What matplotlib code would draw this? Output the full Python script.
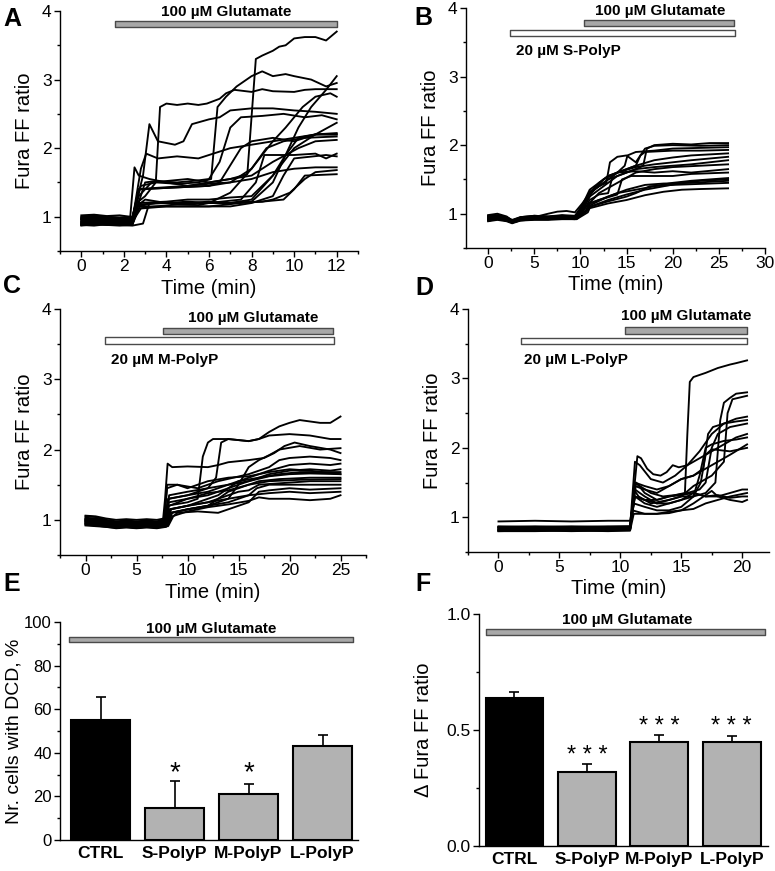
import matplotlib
matplotlib.use("Agg")
import matplotlib.pyplot as plt
from matplotlib.ticker import MultipleLocator

plt.rcParams['font.family'] = ['Liberation Sans', 'DejaVu Sans']
plt.rcParams['axes.linewidth'] = 1.0

# ---------------- data ----------------
# Panel A: control, glutamate only (time in min, Fura FF ratio)
traces_a = [
    [(0,0.96),(0.6,0.98),(1.2,0.97),(1.8,0.95),(2.4,0.96),(2.7,1.3),(3.3,1.5),(4,1.52),(5,1.55),(6,1.5),(7,1.55),(7.8,1.62),(8.2,3.3),(8.5,3.35),(9,3.42),(9.3,3.48),(9.6,3.5),(10,3.6),(10.5,3.62),(11,3.62),(11.5,3.57),(12,3.7)],
    [(0,0.9),(0.6,0.92),(1.2,0.9),(1.8,0.91),(2.4,0.9),(2.6,1.15),(3,1.25),(4,1.2),(5,1.22),(6,1.2),(7,1.2),(8,1.22),(9,1.5),(9.6,1.9),(10.2,2.3),(10.8,2.6),(11.5,2.85),(12,3.05)],
    [(0,1.0),(0.6,1.02),(1.2,1.0),(1.8,0.99),(2.4,1.0),(2.8,1.45),(3.5,1.5),(4.5,1.48),(5.5,1.5),(6.1,1.55),(6.4,2.6),(6.8,2.75),(7.3,2.9),(8,3.05),(8.5,3.12),(9,3.05),(9.6,3.08),(10,3.05),(10.8,3.0),(11.5,2.9),(12,2.95)],
    [(0,0.93),(0.6,0.95),(1.2,0.94),(1.8,0.92),(2.4,0.93),(2.6,1.2),(3.0,1.3),(3.5,1.5),(3.7,2.6),(4,2.65),(4.5,2.63),(5,2.65),(5.5,2.63),(5.9,2.65),(6.5,2.72),(6.8,2.8),(7.2,2.85),(8,2.82),(8.5,2.86),(9,2.83),(10,2.82),(10.5,2.85),(11,2.86),(12,2.86)],
    [(0,0.88),(0.6,0.9),(1.2,0.88),(1.8,0.89),(2.4,0.88),(2.7,1.12),(3.5,1.15),(4.5,1.18),(5.5,1.17),(6,1.2),(7,1.35),(8,1.7),(9,2.1),(9.6,2.3),(10.4,2.6),(11,2.75),(11.7,2.8),(12,2.75)],
    [(0,0.98),(0.6,1.0),(1.2,0.98),(1.8,0.97),(2.4,0.98),(2.9,1.6),(3.2,2.35),(3.6,2.1),(4.4,2.05),(4.8,2.1),(5.2,2.35),(6,2.42),(6.5,2.45),(7,2.55),(8,2.58),(9,2.58),(10,2.55),(11,2.53),(12,2.5)],
    [(0,0.92),(0.6,0.94),(1.2,0.95),(1.8,0.93),(2.4,0.92),(3.0,1.5),(3.5,1.52),(4.5,1.5),(5.5,1.53),(6,1.55),(6.5,1.8),(7,2.3),(7.5,2.45),(8.5,2.47),(9.5,2.5),(10.5,2.45),(11.3,2.48),(12,2.42)],
    [(0,0.87),(0.6,0.89),(1.2,0.88),(1.8,0.87),(2.4,0.88),(2.7,1.2),(4,1.22),(5,1.25),(6,1.25),(7,1.28),(8,1.3),(9,1.6),(10,2.0),(11,2.2),(12,2.37)],
    [(0,0.95),(0.6,0.97),(1.2,0.96),(1.8,0.94),(2.4,0.95),(2.8,1.7),(3.05,1.92),(3.6,1.85),(4.5,1.88),(5.5,1.85),(6,1.9),(7,2.0),(8,2.05),(9,2.1),(10,2.15),(11,2.2),(12,2.22)],
    [(0,0.9),(0.6,0.91),(1.2,0.92),(1.8,0.9),(2.4,0.91),(2.6,1.15),(3.5,1.2),(5,1.2),(6,1.22),(7,1.2),(8,1.25),(9,1.6),(9.6,1.9),(10.2,2.15),(11,2.2),(12,2.2)],
    [(0,0.97),(0.6,0.99),(1.2,0.98),(1.8,0.96),(2.4,0.97),(2.7,1.4),(3.5,1.42),(5,1.45),(6,1.48),(7,1.5),(8,1.7),(8.7,2.0),(9.5,2.1),(10.5,2.15),(12,2.17)],
    [(0,1.02),(0.6,1.03),(1.2,1.01),(1.8,1.02),(2.3,1.0),(2.5,1.72),(2.7,1.6),(3.2,1.55),(4,1.5),(5,1.45),(6,1.5),(7,1.55),(8,1.6),(9,1.8),(10.2,2.0),(11,2.1),(12,2.12)],
    [(0,0.89),(0.6,0.9),(1.2,0.89),(1.8,0.88),(2.4,0.89),(2.7,1.18),(4,1.2),(6,1.2),(7.5,1.25),(8.2,1.5),(8.6,1.9),(9.5,1.9),(10,1.9),(11,1.92),(11.5,1.85),(12,1.92)],
    [(0,0.93),(0.6,0.94),(1.2,0.93),(1.8,0.92),(2.4,0.93),(2.8,1.12),(4,1.15),(6,1.15),(7,1.15),(8,1.2),(9,1.3),(9.5,1.6),(10,1.85),(11.5,1.9),(12,1.88)],
    [(0,0.96),(0.6,0.95),(1.2,0.97),(1.8,0.96),(2.4,0.95),(2.7,1.4),(4,1.42),(6,1.45),(7,1.5),(8,1.55),(9,1.65),(10,1.7),(11,1.72),(12,1.72)],
    [(0,0.91),(0.6,0.92),(1.2,0.9),(1.8,0.91),(2.4,0.9),(2.75,1.15),(4,1.15),(6,1.15),(7.5,1.2),(8.5,1.22),(9,1.25),(9.8,1.35),(10.5,1.55),(11,1.65),(12,1.68)],
    [(0,0.88),(0.6,0.87),(1.2,0.89),(1.8,0.88),(2.4,0.87),(2.9,0.9),(3.2,1.2),(5,1.2),(7,1.2),(8.5,1.22),(9.5,1.25),(10,1.4),(10.5,1.6),(12,1.62)],
    [(0,0.99),(0.6,1.0),(1.2,0.99),(1.8,0.98),(2.4,0.99),(2.7,1.4),(4,1.42),(6,1.45),(6.5,1.5),(7.5,2.0),(8,2.1),(9,2.15),(10,2.1),(11,2.2),(12,2.2)],
]

# Panel B: 20 uM S-PolyP, then glutamate
traces_b = [
    [(0,0.98),(1,1.0),(2,0.96),(2.6,0.9),(3.5,0.95),(5,0.97),(6.5,0.96),(8,0.98),(9.4,0.97),(10.2,1.1),(11,1.3),(12,1.4),(13,1.5),(14,1.55),(15,1.6),(16,1.65),(16.8,1.7),(17.2,1.95),(18,2.0),(20,2.02),(22,2.01),(24,2.03),(26,2.03)],
    [(0,0.93),(1,0.95),(2,0.92),(2.6,0.88),(3.5,0.92),(5,0.94),(6.5,0.93),(8,0.95),(9.4,0.94),(10.2,1.1),(11,1.32),(12,1.4),(12.8,1.45),(13.2,1.75),(14,1.83),(15,1.85),(15.5,1.8),(16,1.75),(16.5,1.85),(17,1.95),(18,1.99),(20,2.0),(23,1.99),(26,2.0)],
    [(0,0.96),(1,0.97),(2,0.94),(2.6,0.9),(3.5,0.94),(5,0.96),(6.5,0.95),(8,0.97),(9.4,0.96),(10.3,1.15),(11,1.35),(12,1.45),(13,1.55),(14,1.6),(14.8,1.7),(15.1,1.85),(16,1.9),(18,1.92),(20,1.95),(23,1.96),(26,1.97)],
    [(0,0.9),(1,0.92),(2,0.9),(2.6,0.87),(3.5,0.91),(5,0.92),(6.5,0.92),(8,0.93),(9.4,0.92),(10.3,1.1),(11,1.3),(12.5,1.45),(14,1.6),(15,1.65),(16,1.7),(16.5,1.85),(17,1.9),(20,1.92),(23,1.92),(26,1.93)],
    [(0,0.94),(1,0.96),(2,0.93),(2.6,0.89),(3.5,0.93),(5,0.95),(6.5,1.0),(7.5,1.03),(8.5,1.04),(9.4,1.02),(10.2,1.15),(11,1.3),(12,1.45),(13,1.55),(14,1.6),(15,1.65),(16,1.7),(18,1.78),(20,1.82),(22,1.85),(26,1.88)],
    [(0,0.92),(1,0.94),(2,0.91),(2.6,0.88),(3.5,0.92),(5,0.93),(6.5,0.93),(8,0.94),(9.4,0.93),(10.4,1.1),(11.2,1.3),(12.5,1.5),(14,1.6),(16,1.68),(18,1.72),(20,1.75),(22,1.78),(26,1.83)],
    [(0,0.97),(1,0.98),(2,0.95),(2.6,0.91),(3.5,0.95),(5,0.97),(6.5,0.96),(8,0.97),(9.4,0.96),(10.4,1.1),(11,1.25),(12,1.35),(14,1.55),(16,1.65),(18,1.68),(20,1.7),(22,1.72),(26,1.78)],
    [(0,0.91),(1,0.93),(2,0.9),(2.6,0.87),(3.5,0.9),(5,0.92),(6.5,0.92),(8,0.93),(9.5,0.93),(10.6,1.1),(12,1.3),(14,1.45),(16,1.6),(18,1.65),(20,1.68),(26,1.72)],
    [(0,0.95),(1,0.96),(2,0.93),(2.6,0.9),(3.5,0.93),(5,0.95),(6.5,0.94),(8,0.95),(9.5,0.95),(10.5,1.08),(11,1.2),(12,1.28),(13,1.3),(13.5,1.55),(14,1.6),(16,1.62),(18,1.6),(20,1.62),(22,1.6),(26,1.65)],
    [(0,0.89),(1,0.91),(2,0.89),(2.6,0.86),(3.5,0.9),(5,0.91),(6.5,0.91),(8,0.92),(9.6,0.92),(10.6,1.05),(11,1.15),(12,1.2),(14,1.28),(14.5,1.5),(15.5,1.55),(18,1.55),(20,1.55),(22,1.58),(26,1.6)],
    [(0,0.93),(1,0.94),(2,0.92),(2.6,0.88),(3.5,0.92),(5,0.94),(6.5,0.94),(8,0.95),(9.6,0.94),(10.6,1.05),(11,1.15),(12,1.2),(14,1.3),(16,1.35),(18,1.4),(20,1.45),(22,1.48),(24,1.5),(26,1.52)],
    [(0,0.96),(1,0.97),(2,0.94),(2.6,0.9),(3.5,0.94),(5,0.96),(6.5,0.95),(8,0.96),(9.6,0.95),(10.7,1.05),(11,1.1),(13,1.2),(15,1.28),(17,1.35),(19,1.4),(21,1.45),(23,1.48),(26,1.5)],
    [(0,0.9),(1,0.92),(2,0.9),(2.6,0.87),(3.5,0.91),(5,0.92),(6.5,0.92),(8,0.93),(9.6,0.93),(10.7,1.05),(11,1.12),(13,1.25),(15,1.35),(17,1.42),(19,1.44),(22,1.45),(26,1.48)],
    [(0,0.94),(1,0.95),(2,0.92),(2.6,0.89),(3.5,0.93),(5,0.94),(6.5,0.94),(8,0.95),(9.7,0.94),(10.8,1.05),(11,1.1),(13,1.18),(15,1.25),(16,1.3),(16.8,1.35),(17.5,1.4),(20,1.42),(26,1.45)],
    [(0,0.92),(1,0.93),(2,0.91),(2.6,0.88),(3.5,0.92),(5,0.93),(6.5,0.93),(8,0.94),(9.7,0.93),(10.8,1.02),(11,1.08),(13,1.15),(15,1.2),(17,1.27),(19,1.32),(21,1.35),(23,1.36),(26,1.37)],
]

# Panel C: 20 uM M-PolyP, then glutamate
traces_c = [
    [(0,1.02),(1,1.0),(2,0.97),(3,0.95),(4,0.96),(5,0.95),(6,0.96),(7,0.95),(7.6,0.96),(8.2,1.3),(10,1.35),(12,1.45),(12.8,1.6),(13.3,2.1),(14,2.15),(16,2.12),(17,2.15),(18,2.25),(19,2.33),(20,2.38),(21,2.42),(22,2.4),(23,2.38),(24,2.38),(25,2.47)],
    [(0,0.98),(1,0.97),(2,0.95),(3,0.93),(4,0.94),(5,0.93),(6,0.94),(7,0.93),(7.7,0.95),(8,1.2),(10,1.25),(11,1.3),(11.5,1.9),(12,2.1),(12.5,2.15),(14,2.15),(16,2.12),(17,2.15),(18,2.2),(20,2.22),(22,2.2),(24,2.15),(25,2.15)],
    [(0,1.05),(1,1.04),(2,1.0),(3,0.98),(4,0.99),(5,0.98),(6,0.99),(7,0.98),(7.6,1.0),(7.8,1.3),(8.05,1.8),(8.5,1.75),(10,1.76),(12,1.75),(13,1.78),(14,1.82),(16,1.85),(17.5,1.88),(18.5,1.95),(19.5,2.05),(20.5,2.1),(22,2.05),(24,2.0),(25,1.95)],
    [(0,0.95),(1,0.94),(2,0.92),(3,0.9),(4,0.91),(5,0.9),(6,0.91),(7,0.9),(7.8,0.92),(8.2,1.15),(10,1.2),(12,1.25),(14,1.3),(15,1.5),(16,1.75),(17,1.85),(18,1.92),(19,2.0),(21,2.05),(23,2.0),(25,2.02)],
    [(0,1.0),(1,0.99),(2,0.97),(3,0.95),(4,0.96),(5,0.95),(6,0.96),(7,0.95),(7.7,0.97),(8,1.5),(9,1.5),(11,1.45),(12,1.5),(13,1.55),(14.5,1.6),(16,1.65),(18,1.75),(19,1.85),(20,1.88),(22,1.9),(24,1.88),(25,1.85)],
    [(0,0.97),(1,0.96),(2,0.94),(3,0.92),(4,0.93),(5,0.92),(6,0.93),(7,0.92),(7.8,0.94),(8.2,1.35),(10,1.4),(12,1.45),(14,1.5),(15,1.55),(16,1.6),(18,1.7),(20,1.78),(22,1.8),(24,1.78),(25,1.8)],
    [(0,1.06),(1,1.05),(2,1.02),(3,1.0),(4,1.01),(5,1.0),(6,1.01),(7,1.0),(7.7,1.02),(8.2,1.25),(10,1.3),(12,1.35),(14,1.45),(16,1.55),(18,1.65),(20,1.7),(22,1.72),(24,1.7),(25,1.72)],
    [(0,0.92),(1,0.91),(2,0.9),(3,0.88),(4,0.89),(5,0.88),(6,0.89),(7,0.88),(7.9,0.9),(8.4,1.15),(10,1.2),(12,1.3),(13,1.35),(15,1.55),(17,1.6),(19,1.65),(21,1.68),(25,1.68)],
    [(0,0.99),(1,0.98),(2,0.96),(3,0.94),(4,0.95),(5,0.94),(6,0.95),(7,0.94),(7.7,0.96),(8.1,1.3),(10,1.35),(12,1.4),(14,1.5),(16,1.55),(18,1.62),(20,1.65),(22,1.66),(25,1.65)],
    [(0,0.94),(1,0.93),(2,0.91),(3,0.9),(4,0.9),(5,0.89),(6,0.9),(7,0.9),(8,0.92),(8.5,1.1),(10,1.15),(12,1.2),(14,1.4),(15,1.45),(17,1.55),(19,1.58),(22,1.6),(25,1.6)],
    [(0,1.03),(1,1.02),(2,0.99),(3,0.97),(4,0.98),(5,0.97),(6,0.98),(7,0.97),(7.8,0.99),(8.2,1.2),(10,1.3),(12,1.38),(14,1.42),(16,1.5),(18,1.55),(21,1.57),(25,1.58)],
    [(0,0.96),(1,0.95),(2,0.93),(3,0.91),(4,0.92),(5,0.91),(6,0.92),(7,0.91),(7.9,0.93),(8.3,1.15),(10,1.2),(12,1.25),(13,1.3),(15,1.4),(16,1.42),(17,1.5),(19,1.52),(22,1.55),(25,1.55)],
    [(0,1.01),(1,1.0),(2,0.98),(3,0.96),(4,0.97),(5,0.96),(6,0.97),(7,0.96),(8,0.98),(8.4,1.1),(10,1.15),(12,1.2),(14,1.25),(16,1.35),(16.8,1.45),(18,1.5),(20,1.5),(22,1.5),(25,1.5)],
    [(0,0.93),(1,0.92),(2,0.9),(3,0.89),(4,0.9),(5,0.89),(6,0.9),(7,0.89),(8.1,0.91),(8.6,1.05),(9,1.1),(11,1.12),(13,1.1),(14,1.15),(15,1.2),(16,1.25),(17,1.4),(18,1.42),(20,1.45),(22,1.43),(25,1.45)],
    [(0,0.98),(1,0.97),(2,0.95),(3,0.93),(4,0.94),(5,0.93),(6,0.94),(7,0.93),(7.9,0.95),(8.3,1.1),(10,1.15),(12,1.2),(14,1.3),(16,1.35),(18,1.38),(20,1.4),(22,1.38),(25,1.4)],
    [(0,0.95),(1,0.94),(2,0.92),(3,0.9),(4,0.91),(5,0.9),(6,0.91),(7,0.9),(8,0.92),(8.5,1.05),(10,1.12),(12,1.18),(14,1.22),(16,1.27),(17,1.32),(18,1.3),(20,1.3),(22,1.28),(24,1.3),(25,1.35)],
    [(0,1.0),(1,0.99),(2,0.97),(3,0.95),(4,0.96),(5,0.95),(6,0.96),(7,0.95),(7.7,0.97),(8,1.45),(9,1.5),(10,1.45),(11,1.5),(12,1.55),(14,1.6),(16,1.62),(18,1.68),(20,1.72),(22,1.7),(25,1.65)],
]

# Panel D: 20 uM L-PolyP, then glutamate
traces_d = [
    [(0,0.85),(3,0.86),(6,0.85),(9,0.86),(10.8,0.86),(11.2,1.5),(11.6,1.45),(12.5,1.35),(13.5,1.3),(14.5,1.32),(15.3,1.35),(15.5,2.2),(15.7,2.95),(16,3.02),(17,3.08),(18,3.15),(19,3.2),(19.5,3.22),(20.4,3.26)],
    [(0,0.82),(3,0.83),(6,0.82),(9,0.83),(10.8,0.83),(11.1,1.4),(11.5,1.3),(12.5,1.2),(14,1.25),(15,1.3),(16,1.3),(17,1.35),(17.8,1.5),(18.2,2.4),(18.5,2.65),(19,2.72),(19.5,2.78),(20.4,2.8)],
    [(0,0.87),(3,0.86),(6,0.87),(9,0.86),(10.8,0.87),(11.2,1.3),(12,1.25),(13,1.2),(14,1.25),(15,1.3),(16,1.45),(17.5,1.6),(18.5,1.8),(18.8,2.5),(19.2,2.7),(20.4,2.75)],
    [(0,0.81),(3,0.82),(6,0.81),(9,0.82),(10.8,0.82),(11.4,1.88),(11.7,1.85),(12.2,1.7),(12.7,1.62),(13.3,1.6),(13.8,1.65),(14.3,1.75),(14.8,1.72),(15.5,1.75),(16.5,1.95),(17.5,2.2),(18.5,2.35),(19.5,2.42),(20.4,2.45)],
    [(0,0.84),(3,0.85),(6,0.84),(9,0.85),(10.8,0.85),(11.2,1.45),(12,1.4),(13,1.35),(14,1.45),(15,1.55),(16,1.6),(16.8,1.7),(17.2,2.2),(17.6,2.3),(18.5,2.35),(19.5,2.38),(20.4,2.4)],
    [(0,0.8),(3,0.81),(6,0.8),(9,0.81),(10.8,0.81),(11.3,1.5),(12,1.35),(13,1.25),(14,1.3),(15.5,1.35),(16.5,1.4),(17,1.5),(17.5,2.0),(18,2.2),(19,2.3),(20.4,2.35)],
    [(0,0.86),(3,0.85),(6,0.86),(9,0.85),(10.8,0.86),(11.2,1.8),(11.6,1.75),(12.5,1.55),(13.5,1.5),(14.5,1.6),(15.5,1.75),(16.5,1.85),(17.5,1.95),(18.5,2.05),(19.5,2.15),(20.4,2.2)],
    [(0,0.83),(3,0.84),(6,0.83),(9,0.84),(10.8,0.84),(11.2,1.3),(12,1.2),(13,1.15),(14,1.2),(15,1.25),(16,1.3),(16.5,1.6),(17,2.0),(17.5,2.05),(18.5,2.1),(19.5,2.12),(20.4,2.15)],
    [(0,0.82),(3,0.82),(6,0.83),(9,0.82),(10.8,0.83),(11.2,1.5),(12,1.45),(13,1.4),(14,1.45),(15,1.55),(16,1.6),(17,1.7),(18,1.8),(19,1.9),(20.4,2.05)],
    [(0,0.85),(3,0.84),(6,0.85),(9,0.84),(10.8,0.85),(11.1,1.2),(12,1.15),(13,1.1),(14,1.1),(15,1.15),(16,1.3),(16.6,1.5),(17,1.9),(17.5,1.98),(19,1.95),(20.4,2.0)],
    [(0,0.94),(3,0.95),(6,0.94),(9,0.95),(10.8,0.95),(11.2,1.3),(12,1.25),(13,1.25),(14,1.3),(15,1.32),(16,1.35),(17,1.3),(18,1.3),(19,1.35),(20,1.4),(20.4,1.4)],
    [(0,0.81),(3,0.81),(6,0.82),(9,0.81),(10.8,0.82),(11,1.1),(12,1.05),(13,1.05),(14,1.08),(15,1.1),(16,1.12),(17,1.2),(18,1.25),(19,1.3),(20.4,1.35)],
    [(0,0.86),(3,0.87),(6,0.86),(9,0.87),(10.8,0.87),(11.2,1.4),(12,1.3),(13,1.2),(14,1.2),(15,1.25),(16,1.35),(17,1.3),(18,1.32),(19,1.28),(20,1.3),(20.4,1.3)],
    [(0,0.8),(3,0.8),(6,0.81),(9,0.8),(10.8,0.81),(11.1,1.05),(12,1.05),(13,1.05),(14,1.06),(15,1.1),(16,1.2),(17,1.32),(17.5,1.38),(18,1.3),(19,1.25),(20,1.22),(20.4,1.25)],
]

# treatment periods (min) shown as bars on top of the trace panels
glu_span = {'A': (1.6, 12.0), 'B': (10.4, 26.6), 'C': (7.6, 24.3), 'D': (10.4, 20.4)}
polyp_span = {'B': (2.4, 26.75), 'C': (1.95, 24.4), 'D': (1.85, 20.4)}
polyp_name = {'B': 'S-PolyP', 'C': 'M-PolyP', 'D': 'L-PolyP'}

# Panels E and F: summary bars
groups = ['CTRL', 'S-PolyP', 'M-PolyP', 'L-PolyP']
dcd_pct = [55, 14.5, 21, 43]
dcd_err = [10.5, 12.5, 4.5, 5]
dcd_sig = ['', '*', '*', '']
delta_ratio = [0.64, 0.32, 0.45, 0.45]
delta_err = [0.022, 0.035, 0.028, 0.026]
delta_sig = ['', '* * *', '* * *', '* * *']
bar_colors = ['black', '#b2b2b2', '#b2b2b2', '#b2b2b2']

GLU_LABEL = '100 \u00b5M Glutamate'
GLU_FACE = '#a8a8a8'
EDGE = '#4a4a4a'

W, H = 775, 871
fig = plt.figure(figsize=(W / 100, H / 100), dpi=100)


def px_axes(left, top, right, bottom):
    return fig.add_axes([left / W, 1 - bottom / H, (right - left) / W, (bottom - top) / H])


def style(ax):
    for s in ('top', 'right'):
        ax.spines[s].set_visible(False)
    ax.tick_params(which='major', direction='out', length=4, width=1, labelsize=12.5, pad=2)
    ax.tick_params(which='minor', direction='out', length=2.5, width=1)


def bar(ax, span, y, h, face):
    ax.broken_barh([(span[0], span[1] - span[0])], (y - h / 2, h),
                   facecolors=face, edgecolors=EDGE, linewidth=1.0, zorder=3)


def trace_panel(ax, traces, xlim, xmajor, xminor, xticks_max):
    for tr in traces:
        t, v = zip(*tr)
        ax.plot(t, v, color='black', lw=1.35, solid_joinstyle='round')
    ax.set_xlim(*xlim)
    ax.set_ylim(0.5, 4)
    ax.set_xticks([x for x in range(0, xticks_max + 1, xmajor)])
    ax.xaxis.set_minor_locator(MultipleLocator(xminor))
    ax.set_yticks([1, 2, 3, 4])
    ax.yaxis.set_minor_locator(MultipleLocator(0.5))
    ax.set_xlabel('Time (min)', fontsize=14.5, labelpad=3)
    ax.set_ylabel('Fura FF ratio', fontsize=14.5, labelpad=6)
    style(ax)


# ---- A ----
ax_a = px_axes(60, 11, 358, 251)
trace_panel(ax_a, traces_a, (-1, 13), 2, 1, 12)
bar(ax_a, glu_span['A'], 3.81, 0.095, GLU_FACE)
ax_a.text(6.8, 3.99, GLU_LABEL, ha='center', va='center', fontsize=11, fontweight='bold')

# ---- B ----
ax_b = px_axes(466, 8, 765, 248)
trace_panel(ax_b, traces_b, (-2.4, 30), 5, 2.5, 30)
bar(ax_b, glu_span['B'], 3.78, 0.09, GLU_FACE)
bar(ax_b, polyp_span['B'], 3.64, 0.09, 'white')
ax_b.text(18.6, 3.95, GLU_LABEL, ha='center', va='center', fontsize=11, fontweight='bold')
ax_b.text(3.0, 3.37, '20 \u00b5M ' + polyp_name['B'], ha='left', va='center', fontsize=11, fontweight='bold')

# ---- C ----
ax_c = px_axes(60, 309, 366, 555)
trace_panel(ax_c, traces_c, (-2.5, 27.5), 5, 2.5, 25)
bar(ax_c, glu_span['C'], 3.69, 0.09, GLU_FACE)
bar(ax_c, polyp_span['C'], 3.55, 0.09, 'white')
ax_c.text(16.4, 3.87, GLU_LABEL, ha='center', va='center', fontsize=11, fontweight='bold')
ax_c.text(2.5, 3.27, '20 \u00b5M ' + polyp_name['C'], ha='left', va='center', fontsize=11, fontweight='bold')

# ---- D ----
ax_d = px_axes(468, 309, 769, 552)
trace_panel(ax_d, traces_d, (-2.5, 22.2), 5, 2.5, 20)
bar(ax_d, glu_span['D'], 3.69, 0.09, GLU_FACE)
bar(ax_d, polyp_span['D'], 3.54, 0.09, 'white')
ax_d.text(15.4, 3.9, GLU_LABEL, ha='center', va='center', fontsize=11, fontweight='bold')
ax_d.text(2.1, 3.27, '20 \u00b5M ' + polyp_name['D'], ha='left', va='center', fontsize=11, fontweight='bold')


def summary_panel(ax, vals, errs, xlim, ylim):
    xs = list(range(len(groups)))
    ax.bar(xs, vals, width=0.8, color=bar_colors, edgecolor='black', linewidth=1.5, zorder=2)
    ax.errorbar(xs, vals, yerr=[[0] * len(errs), errs], fmt='none', ecolor='black',
                elinewidth=1.2, capsize=3.5, capthick=1.2, zorder=1)
    ax.set_xlim(*xlim)
    ax.set_ylim(*ylim)
    ax.set_xticks(xs)
    ax.set_xticklabels(groups, fontsize=11.5, fontweight='bold')
    style(ax)
    ax.tick_params(axis='x', which='major', length=0, pad=4)
    return xs


# ---- E ----
ax_e = px_axes(60, 622, 358, 840)
xs = summary_panel(ax_e, dcd_pct, dcd_err, (-0.55, 3.48), (0, 100))
ax_e.yaxis.set_major_locator(MultipleLocator(20))
ax_e.yaxis.set_minor_locator(MultipleLocator(10))
ax_e.tick_params(axis='y', which='major', labelsize=12)
ax_e.set_ylabel('Nr. cells with DCD, %', fontsize=14, labelpad=1)
bar(ax_e, (-0.43, 3.41), 92, 2.6, GLU_FACE)
ax_e.text(1.49, 97, GLU_LABEL, ha='center', va='center', fontsize=11, fontweight='bold')
for x, s in zip(xs, dcd_sig):
    if s:
        ax_e.text(x, 30.5, s, ha='center', va='center', fontsize=20)

# ---- F ----
ax_f = px_axes(479, 614, 768, 846)
xs = summary_panel(ax_f, delta_ratio, delta_err, (-0.49, 3.5), (0, 1.0))
ax_f.set_yticks([0.0, 0.5, 1.0])
ax_f.set_yticklabels(['0.0', '0.5', '1.0'])
ax_f.yaxis.set_minor_locator(MultipleLocator(0.25))
ax_f.set_ylabel('\u0394 Fura FF ratio', fontsize=14.5, labelpad=10)
bar(ax_f, (-0.39, 3.46), 0.922, 0.026, GLU_FACE)
ax_f.text(1.56, 0.976, GLU_LABEL, ha='center', va='center', fontsize=11, fontweight='bold')
for x, v, e, s in zip(xs, delta_ratio, delta_err, delta_sig):
    if s:
        ax_f.text(x, v + e + 0.035, s, ha='center', va='center', fontsize=17)

# panel letters
for letter, (lx, ly) in {'A': (3, 7), 'B': (414, 6), 'C': (3, 274), 'D': (415, 276),
                         'E': (3, 572), 'F': (415, 572)}.items():
    fig.text(lx / W, 1 - ly / H, letter, ha='left', va='top', fontsize=18, fontweight='bold')

fig.savefig('out.png', dpi=100)
